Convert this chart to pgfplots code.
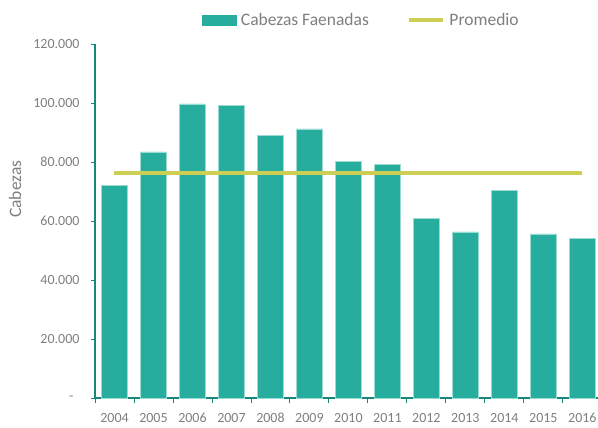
\documentclass[border=0pt]{standalone}
\usepackage{fontspec}
\setmainfont{Carlito}
\usepackage{pgfplots}
\pgfplotsset{compat=1.18}
\usetikzlibrary{calc}
\definecolor{barTeal}{HTML}{26AD9E}
\definecolor{barEdge}{HTML}{9ADCD3}
\definecolor{axTeal}{HTML}{16877B}
\definecolor{avgLine}{HTML}{CDCF55}
\definecolor{txtGray}{HTML}{7F7F7F}

\pgfplotstableread{
year cabezas
2004 72200
2005 83400
2006 99700
2007 99300
2008 89100
2009 91200
2010 80300
2011 79300
2012 61000
2013 56300
2014 70500
2015 55600
2016 54200
}\faena

\begin{document}
\begin{tikzpicture}
\begin{axis}[
  scale only axis,
  width=503bp, height=354bp,
  xmin=2003.5, xmax=2016.4,
  ymin=0, ymax=120000,
  axis x line*=bottom, axis y line*=left,
  axis line style={axTeal, line width=1.4pt},
  xtick={2004,...,2016},
  xticklabel style={/pgf/number format/1000 sep={}, anchor=north,
    text height=10bp, text depth=2bp, yshift=-7bp},
  minor xtick={2003.5,2004.5,...,2016.5},
  major x tick style={draw=none},
  minor tick length=5bp,
  scaled y ticks=false,
  ytick={0,20000,...,120000},
  yticklabels={{-\hspace*{6bp}},20.000,40.000,60.000,80.000,100.000,120.000},
  major tick length=4bp,
  tick align=outside,
  tick style={axTeal, line width=0.9pt},
  tick label style={font=\fontsize{14bp}{16bp}\selectfont, text=txtGray},
  /pgf/number format/assume math mode=true,
  yticklabel style={xshift=-8bp},
  ylabel={Cabezas},
  ylabel style={at={(axis description cs:-0.159,0.59)}, anchor=center,
    font=\fontsize{17.5bp}{20bp}\selectfont, text=txtGray},
  legend style={at={(0.53,1)}, anchor=south, yshift=13bp, draw=none,
    legend columns=2, font=\fontsize{17.5bp}{20bp}\selectfont, text=txtGray,
    /tikz/every even column/.style={column sep=36bp},
    /tikz/every odd column/.style={column sep=3bp}},
  clip=false,
]
\addplot[ybar, bar width=26bp, fill=barTeal, draw=barEdge, line width=0.5pt,
  area legend,
  legend image code/.code={\fill[barTeal] (0bp,-5bp) rectangle (33bp,5bp);}]
  table[x=year, y=cabezas] {\faena};
\addlegendentry{Cabezas Faenadas}
\addplot[avgLine, line width=3.6pt, no marks,
  legend image code/.code={\draw[avgLine, line width=3.6pt] (0bp,0bp) -- (34bp,0bp);}]
  coordinates {(2004,76300)(2016,76300)};
\addlegendentry{Promedio}
\coordinate (bl) at (rel axis cs:0,0);
\coordinate (tr) at (rel axis cs:1,1);
\end{axis}
\pgfresetboundingbox
\path ($(bl)+(-95bp,-30bp)$) rectangle ($(tr)+(0bp,44bp)$);
\end{tikzpicture}
\end{document}
